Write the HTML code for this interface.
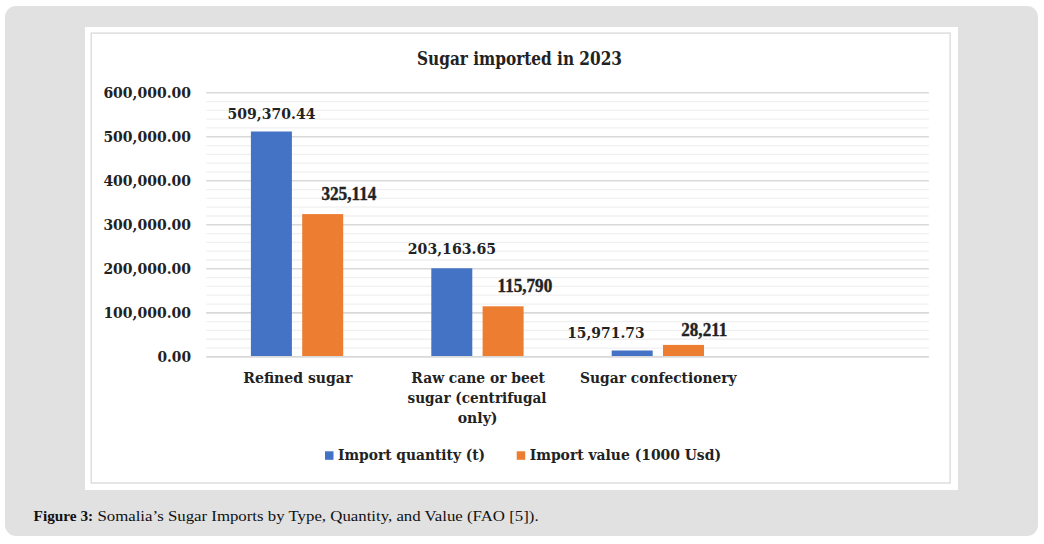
<!DOCTYPE html>
<html><head><meta charset="utf-8"><title>Sugar imported in 2023</title>
<style>
html,body{margin:0;padding:0;background:#fff;width:1044px;height:544px;overflow:hidden}
.box{position:absolute;left:5px;top:6px;width:1033px;height:530px;background:#e1e1e1;border-radius:11px}
svg{position:absolute;left:0;top:0}
.cam{font-family:"DejaVu Serif Condensed","DejaVu Serif","Liberation Serif",serif;font-stretch:condensed;font-weight:bold;fill:#222}
.dvs{font-family:"DejaVu Serif","Liberation Serif",serif;font-weight:bold;fill:#222}
.tnr{font-family:"Liberation Serif",serif;font-weight:bold;fill:#222;stroke:#222;stroke-width:0.4px}
.pal{font-family:"Liberation Serif",serif;fill:#111}
</style></head><body>
<div class="box"></div>
<svg width="1044" height="544" viewBox="0 0 1044 544">
<rect x="85" y="27" width="873" height="463" fill="#fff"/>
<rect x="91.2" y="33.1" width="858.9" height="449.9" fill="none" stroke="#d9d9d9" stroke-width="1.3"/>
<line x1="206.3" x2="928.9" y1="348.05" y2="348.05" stroke="#f0f0f0" stroke-width="1.3"/>
<line x1="206.3" x2="928.9" y1="339.24" y2="339.24" stroke="#f0f0f0" stroke-width="1.3"/>
<line x1="206.3" x2="928.9" y1="330.44" y2="330.44" stroke="#f0f0f0" stroke-width="1.3"/>
<line x1="206.3" x2="928.9" y1="321.63" y2="321.63" stroke="#f0f0f0" stroke-width="1.3"/>
<line x1="206.3" x2="928.9" y1="304.03" y2="304.03" stroke="#f0f0f0" stroke-width="1.3"/>
<line x1="206.3" x2="928.9" y1="295.22" y2="295.22" stroke="#f0f0f0" stroke-width="1.3"/>
<line x1="206.3" x2="928.9" y1="286.42" y2="286.42" stroke="#f0f0f0" stroke-width="1.3"/>
<line x1="206.3" x2="928.9" y1="277.61" y2="277.61" stroke="#f0f0f0" stroke-width="1.3"/>
<line x1="206.3" x2="928.9" y1="260.01" y2="260.01" stroke="#f0f0f0" stroke-width="1.3"/>
<line x1="206.3" x2="928.9" y1="251.20" y2="251.20" stroke="#f0f0f0" stroke-width="1.3"/>
<line x1="206.3" x2="928.9" y1="242.40" y2="242.40" stroke="#f0f0f0" stroke-width="1.3"/>
<line x1="206.3" x2="928.9" y1="233.59" y2="233.59" stroke="#f0f0f0" stroke-width="1.3"/>
<line x1="206.3" x2="928.9" y1="215.99" y2="215.99" stroke="#f0f0f0" stroke-width="1.3"/>
<line x1="206.3" x2="928.9" y1="207.18" y2="207.18" stroke="#f0f0f0" stroke-width="1.3"/>
<line x1="206.3" x2="928.9" y1="198.38" y2="198.38" stroke="#f0f0f0" stroke-width="1.3"/>
<line x1="206.3" x2="928.9" y1="189.57" y2="189.57" stroke="#f0f0f0" stroke-width="1.3"/>
<line x1="206.3" x2="928.9" y1="171.97" y2="171.97" stroke="#f0f0f0" stroke-width="1.3"/>
<line x1="206.3" x2="928.9" y1="163.16" y2="163.16" stroke="#f0f0f0" stroke-width="1.3"/>
<line x1="206.3" x2="928.9" y1="154.36" y2="154.36" stroke="#f0f0f0" stroke-width="1.3"/>
<line x1="206.3" x2="928.9" y1="145.55" y2="145.55" stroke="#f0f0f0" stroke-width="1.3"/>
<line x1="206.3" x2="928.9" y1="127.95" y2="127.95" stroke="#f0f0f0" stroke-width="1.3"/>
<line x1="206.3" x2="928.9" y1="119.14" y2="119.14" stroke="#f0f0f0" stroke-width="1.3"/>
<line x1="206.3" x2="928.9" y1="110.34" y2="110.34" stroke="#f0f0f0" stroke-width="1.3"/>
<line x1="206.3" x2="928.9" y1="101.53" y2="101.53" stroke="#f0f0f0" stroke-width="1.3"/>
<line x1="206.3" x2="928.9" y1="312.83" y2="312.83" stroke="#d9d9d9" stroke-width="1.6"/>
<line x1="206.3" x2="928.9" y1="268.81" y2="268.81" stroke="#d9d9d9" stroke-width="1.6"/>
<line x1="206.3" x2="928.9" y1="224.79" y2="224.79" stroke="#d9d9d9" stroke-width="1.6"/>
<line x1="206.3" x2="928.9" y1="180.77" y2="180.77" stroke="#d9d9d9" stroke-width="1.6"/>
<line x1="206.3" x2="928.9" y1="136.75" y2="136.75" stroke="#d9d9d9" stroke-width="1.6"/>
<line x1="206.3" x2="928.9" y1="92.73" y2="92.73" stroke="#d9d9d9" stroke-width="1.6"/>
<rect x="250.90" y="131.50" width="41.0" height="225.35" fill="#4472c4"/>
<rect x="302.20" y="214.10" width="41.0" height="142.75" fill="#ed7d31"/>
<rect x="431.30" y="268.30" width="41.0" height="88.55" fill="#4472c4"/>
<rect x="482.60" y="306.30" width="41.0" height="50.55" fill="#ed7d31"/>
<rect x="611.70" y="350.50" width="41.0" height="6.35" fill="#4472c4"/>
<rect x="663.00" y="344.90" width="41.0" height="11.95" fill="#ed7d31"/>
<line x1="206.3" x2="928.9" y1="356.85" y2="356.85" stroke="#d9d9d9" stroke-width="1.6"/>
<rect x="325" y="451.3" width="8.5" height="8.5" fill="#4472c4"/>
<rect x="516.7" y="451.3" width="8.5" height="8.5" fill="#ed7d31"/>
<text class="cam" x="417.00" y="64.90" font-size="18.3" text-anchor="start" textLength="205.00" lengthAdjust="spacingAndGlyphs">Sugar imported in 2023</text>
<text class="dvs" x="227.60" y="118.90" font-size="14.6" text-anchor="start" textLength="87.80" lengthAdjust="spacingAndGlyphs">509,370.44</text>
<text class="dvs" x="407.80" y="254.00" font-size="14.6" text-anchor="start" textLength="88.20" lengthAdjust="spacingAndGlyphs">203,163.65</text>
<text class="dvs" x="567.20" y="337.60" font-size="14.6" text-anchor="start" textLength="77.40" lengthAdjust="spacingAndGlyphs">15,971.73</text>
<text class="tnr" x="321.40" y="200.00" font-size="17.8" text-anchor="start" textLength="55.00" lengthAdjust="spacingAndGlyphs">325,114</text>
<text class="tnr" x="497.60" y="292.10" font-size="17.8" text-anchor="start" textLength="54.60" lengthAdjust="spacingAndGlyphs">115,790</text>
<text class="tnr" x="681.30" y="336.00" font-size="17.8" text-anchor="start" textLength="46.00" lengthAdjust="spacingAndGlyphs">28,211</text>
<text class="cam" x="243.30" y="383.00" font-size="15.5" text-anchor="start" textLength="109.00" lengthAdjust="spacingAndGlyphs">Refined sugar</text>
<text class="cam" x="411.30" y="383.10" font-size="15.5" text-anchor="start" textLength="133.70" lengthAdjust="spacingAndGlyphs">Raw cane or beet</text>
<text class="cam" x="407.50" y="402.50" font-size="15.5" text-anchor="start" textLength="139.00" lengthAdjust="spacingAndGlyphs">sugar (centrifugal</text>
<text class="cam" x="457.70" y="422.50" font-size="15.5" text-anchor="start" textLength="39.80" lengthAdjust="spacingAndGlyphs">only)</text>
<text class="cam" x="580.10" y="382.90" font-size="15.5" text-anchor="start" textLength="156.50" lengthAdjust="spacingAndGlyphs">Sugar confectionery</text>
<text class="cam" x="338.10" y="459.60" font-size="15" text-anchor="start" textLength="147.00" lengthAdjust="spacingAndGlyphs">Import quantity (t)</text>
<text class="cam" x="529.70" y="459.60" font-size="15" text-anchor="start" textLength="191.30" lengthAdjust="spacingAndGlyphs">Import value (1000 Usd)</text>
<text class="dvs" x="191.00" y="361.75" font-size="14.6" text-anchor="end" textLength="33.60" lengthAdjust="spacingAndGlyphs">0.00</text>
<text class="dvs" x="191.00" y="317.73" font-size="14.6" text-anchor="end" textLength="87.60" lengthAdjust="spacingAndGlyphs">100,000.00</text>
<text class="dvs" x="191.00" y="273.71" font-size="14.6" text-anchor="end" textLength="87.60" lengthAdjust="spacingAndGlyphs">200,000.00</text>
<text class="dvs" x="191.00" y="229.69" font-size="14.6" text-anchor="end" textLength="87.60" lengthAdjust="spacingAndGlyphs">300,000.00</text>
<text class="dvs" x="191.00" y="185.67" font-size="14.6" text-anchor="end" textLength="87.60" lengthAdjust="spacingAndGlyphs">400,000.00</text>
<text class="dvs" x="191.00" y="141.65" font-size="14.6" text-anchor="end" textLength="87.60" lengthAdjust="spacingAndGlyphs">500,000.00</text>
<text class="dvs" x="191.00" y="97.63" font-size="14.6" text-anchor="end" textLength="87.60" lengthAdjust="spacingAndGlyphs">600,000.00</text>
<text class="pal" x="33.6" y="520.8" font-size="14" font-weight="bold" textLength="59.6" lengthAdjust="spacingAndGlyphs">Figure 3:</text>
<text class="pal" x="97.4" y="520.8" font-size="14.6" textLength="441.2" lengthAdjust="spacingAndGlyphs">Somalia’s Sugar Imports by Type, Quantity, and Value (FAO [5]).</text>
</svg>
</body></html>
